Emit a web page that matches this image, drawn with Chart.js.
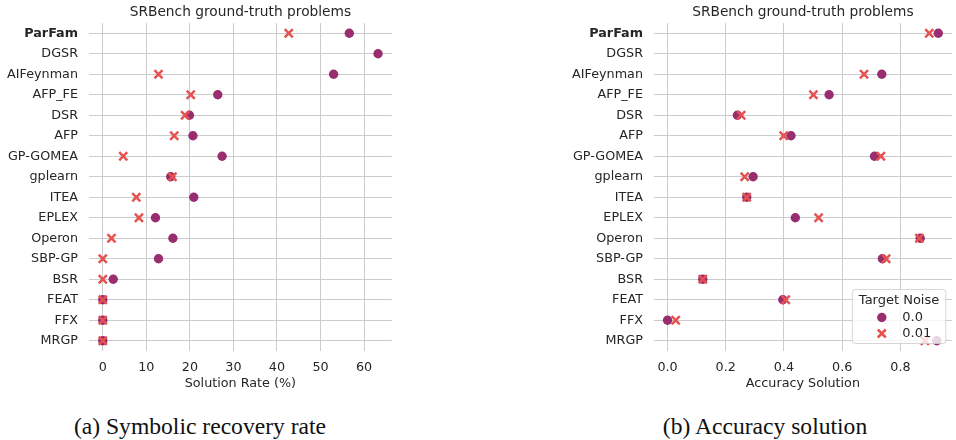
<!DOCTYPE html>
<html>
<head>
<meta charset="utf-8">
<script src="https://cdn.jsdelivr.net/npm/chart.js@4.4.1/dist/chart.umd.min.js"></script>
<style>
  html, body { margin: 0; padding: 0; background: #ffffff; }
  body { width: 956px; height: 440px; overflow: hidden; position: relative; }
  .box { position: absolute; top: 0; }
  .cap { position: absolute; top: 414px; font-family: "Liberation Serif", "Times New Roman", serif; font-size: 23.6px; line-height: 24px; color: #111; white-space: nowrap; transform: translateX(-50%); }
</style>
</head>
<body>
<div class="box" style="left:0px;width:400px;height:395px;"><canvas id="c1" width="400" height="395"></canvas></div>
<div class="box" style="left:480px;width:480px;height:395px;"><canvas id="c2" width="480" height="395"></canvas></div>
<div class="cap" style="left:200px;">(a) Symbolic recovery rate</div>
<div class="cap" style="left:765px;">(b) Accuracy solution</div>
<script>
const methods = ['ParFam','DGSR','AIFeynman','AFP_FE','DSR','AFP','GP-GOMEA','gplearn','ITEA','EPLEX','Operon','SBP-GP','BSR','FEAT','FFX','MRGP'];
const rateNoise0   = [56.6, 63.2, 53.0, 26.4, 19.9, 20.7, 27.4, 15.6, 20.9, 12.1, 16.1, 12.8, 2.4, 0, 0, 0];
const rateNoise001 = [42.7, null, 12.8, 20.2, 18.9, 16.4, 4.7, 16.0, 7.7, 8.3, 2.0, 0, 0, 0, 0, 0];
const accNoise0    = [0.930, null, 0.736, 0.555, 0.240, 0.424, 0.711, 0.294, 0.272, 0.439, 0.868, 0.738, 0.121, 0.396, 0.000, 0.925];
const accNoise001  = [0.899, null, 0.675, 0.501, 0.253, 0.399, 0.733, 0.265, 0.272, 0.519, 0.865, 0.751, 0.121, 0.406, 0.028, 0.884];
const rateTicks = [0, 10, 20, 30, 40, 50, 60];
const accTicks = [0.0, 0.2, 0.4, 0.6, 0.8];
const noiseLabels = ['0.0', '0.01'];
const chartTitle = 'SRBench ground-truth problems';

const FONT = 'DejaVu Sans';
const TXT = '#262626';
const GRID = '#cccccc';
const C0 = '#982d6f';
const C1 = '#e5524f';
const FS = 12.75;

Chart.defaults.font.family = FONT;
Chart.defaults.font.size = FS;
Chart.defaults.color = TXT;

function toPts(vals) {
  const out = [];
  vals.forEach((v, i) => { if (v !== null) out.push({ x: v, y: methods[i] }); });
  return out;
}

const titlePlugin = {
  id: 'areaTitle',
  afterDraw(chart) {
    const ca = chart.chartArea, ctx = chart.ctx;
    ctx.save();
    ctx.fillStyle = TXT;
    ctx.font = '13.75px "' + FONT + '"';
    ctx.textAlign = 'center';
    ctx.textBaseline = 'middle';
    ctx.fillText(chartTitle, (ca.left + ca.right) / 2, 12.5);
    ctx.restore();
  }
};

function makeChart(id, v0, v1, xmin, xmax, ticks, fmt, xTitle, yWidth, padRight, withLegend) {
  const plugins = [titlePlugin];
  if (withLegend) {
    plugins.push({
      id: 'noiseLegend',
      afterDatasetsDraw(chart) {
        const ca = chart.chartArea, ctx = chart.ctx;
        const w = 93.5, h = 54;
        const x = ca.right - 6 - w, y = ca.bottom - 7.5 - h;
        ctx.save();
        ctx.beginPath();
        if (ctx.roundRect) ctx.roundRect(x, y, w, h, 3); else ctx.rect(x, y, w, h);
        ctx.fillStyle = 'rgba(255,255,255,0.8)';
        ctx.fill();
        ctx.strokeStyle = 'rgba(204,204,204,0.8)';
        ctx.lineWidth = 1;
        ctx.stroke();
        ctx.fillStyle = TXT;
        ctx.font = '13px "' + FONT + '"';
        ctx.textBaseline = 'middle';
        ctx.textAlign = 'center';
        ctx.fillText('Target Noise', x + w / 2, y + 11);
        ctx.textAlign = 'left';
        ctx.fillText(noiseLabels[0], x + 50, y + 28);
        ctx.fillText(noiseLabels[1], x + 50, y + 44);
        ctx.beginPath();
        ctx.arc(x + 29.5, y + 28, 4.7, 0, Math.PI * 2);
        ctx.fillStyle = C0;
        ctx.fill();
        ctx.strokeStyle = C1;
        ctx.lineWidth = 2.5;
        const cx = x + 29.5, cy = y + 44, d = 4;
        ctx.beginPath();
        ctx.moveTo(cx - d, cy - d); ctx.lineTo(cx + d, cy + d);
        ctx.moveTo(cx + d, cy - d); ctx.lineTo(cx - d, cy + d);
        ctx.stroke();
        ctx.restore();
      }
    });
  }
  return new Chart(document.getElementById(id), {
    type: 'scatter',
    data: {
      labels: methods,
      datasets: [
        {
          label: noiseLabels[0], data: toPts(v0), order: 2,
          pointStyle: 'circle', pointRadius: 4.7, pointHoverRadius: 4.7,
          backgroundColor: C0, borderColor: C0, borderWidth: 0
        },
        {
          label: noiseLabels[1], data: toPts(v1), order: 1,
          pointStyle: 'crossRot', pointRadius: 5.7, pointHoverRadius: 5.7,
          backgroundColor: C1, borderColor: C1, borderWidth: 2.5
        }
      ]
    },
    options: {
      responsive: false,
      animation: false,
      devicePixelRatio: 1,
      layout: { padding: { left: 0, right: padRight, top: 23, bottom: 0 } },
      plugins: {
        legend: { display: false },
        tooltip: { enabled: false },
        title: { display: false }
      },
      scales: {
        x: {
          type: 'linear', min: xmin, max: xmax,
          border: { display: false },
          grid: { color: GRID, lineWidth: 1, drawTicks: false },
          afterBuildTicks: (s) => { s.ticks = ticks.map(v => ({ value: v })); },
          afterFit: (s) => { s.height = 44; },
          ticks: { padding: 9.5, color: TXT, font: { family: FONT, size: FS }, callback: (v) => fmt(v), maxRotation: 0, autoSkip: false },
          title: { display: true, text: xTitle, color: TXT, font: { family: FONT, size: FS }, padding: { top: 0, bottom: 3.5 } }
        },
        y: {
          type: 'category', labels: methods, offset: true,
          border: { display: false },
          grid: { color: GRID, lineWidth: 1, drawTicks: false, offset: false },
          afterFit: (s) => { s.width = yWidth; },
          ticks: {
            padding: 11, color: TXT, autoSkip: false,
            font: (c) => ({ family: FONT, size: FS, weight: c.index === 0 ? 'bold' : 'normal' })
          }
        }
      }
    },
    plugins: plugins
  });
}

makeChart('c1', rateNoise0, rateNoise001, -3.16, 66.36, rateTicks, (v) => String(Math.round(v)), 'Solution Rate (%)', 89, 8, false);
makeChart('c2', accNoise0, accNoise001, -0.0465, 0.9765, accTicks, (v) => Number(v).toFixed(1), 'Accuracy Solution', 174, 2, true);
</script>
</body>
</html>
